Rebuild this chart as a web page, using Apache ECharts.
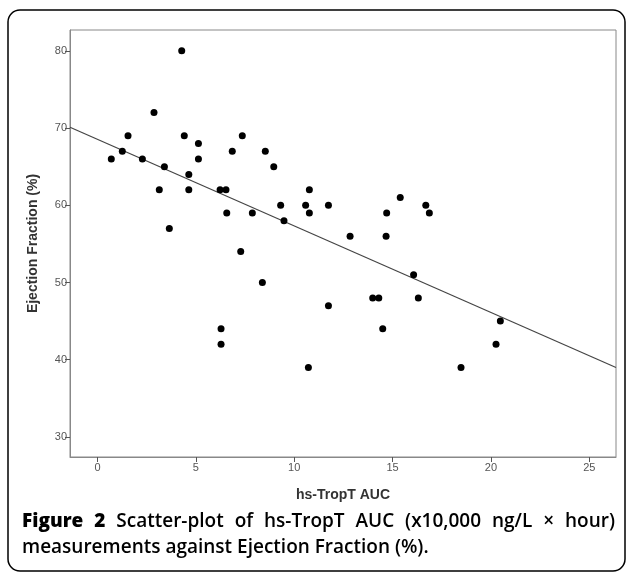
<!DOCTYPE html>
<html>
<head>
<meta charset="utf-8">
<script src="https://cdn.jsdelivr.net/npm/echarts@6/dist/echarts.min.js"></script>
<style>
html,body{margin:0;padding:0;background:#fff;}
#chart{width:627px;height:573px;}
</style>
</head>
<body>
<div id="chart"></div>
<script>
// hs-TropT AUC (x10,000 ng/L × hour)
var tropT = [0.70,1.26,1.55,2.28,2.87,3.14,3.40,3.65,4.28,4.41,4.64,4.64,5.13,5.13,6.23,6.53,6.57,6.28,6.28,6.85,7.28,7.36,7.87,8.38,8.53,8.96,9.31,9.48,10.58,10.77,10.77,10.72,11.74,11.74,12.84,13.99,14.30,14.50,14.67,14.70,15.39,16.07,16.31,16.69,16.87,18.48,20.26,20.48];
// Ejection Fraction (%)
var ef = [66,67,69,66,72,62,65,57,80,69,64,62,68,66,62,62,59,44,42,67,54,69,59,50,67,65,60,58,60,62,59,39,60,47,56,48,48,44,56,59,61,51,48,60,59,39,42,45];
// regression line end points
var fitX = [-1.4, 26.36];
var fitY = [70.1, 39.0];
var xTicks = [0,5,10,15,20,25];
var yTicks = [30,40,50,60,70,80];
var captionLine1 = ['Figure','2','Scatter-plot','of','hs-TropT','AUC','(x10,000','ng/L','×','hour)'];
var captionLine2 = 'measurements against Ejection Fraction (%).';

var pts = tropT.map(function(v,i){return [v, ef[i]];});
var fit = fitX.map(function(v,i){return [v, fitY[i]];});

// caption layout: justify line 1 between left and right edges
var capFont = '600 19px "Open Sans", sans-serif';
var capBold = '800 19px "Open Sans", sans-serif';
var cv = document.createElement('canvas').getContext('2d');
function w(txt, f){cv.font = f; return cv.measureText(txt).width;}
var capLeft = 22, capRight = 615, capY1 = 512, capY2 = 538;
var widths = captionLine1.map(function(t,i){return w(t, i<2?capBold:capFont);});
var total = widths.reduce(function(a,b){return a+b;},0);
var gap = (capRight-capLeft-total)/(captionLine1.length-1);
var capGraphics = [];
var cx = capLeft;
captionLine1.forEach(function(t,i){
  capGraphics.push({type:'text', x:cx, y:capY1, style:{text:t, font:i<2?capBold:capFont, fill:'#000'}});
  cx += widths[i] + gap;
});
capGraphics.push({type:'text', x:capLeft, y:capY2, style:{text:captionLine2, font:capFont, fill:'#000'}});

var chart = echarts.init(document.getElementById('chart'), null, {renderer:'canvas'});
var tickFont = {color:'#555', fontSize:11, fontFamily:'Liberation Sans, Arial, sans-serif'};
var nameFont = {color:'#333', fontSize:14, fontWeight:'bold', fontFamily:'Liberation Sans, Arial, sans-serif'};
chart.setOption({
  animation:false,
  backgroundColor:'#fff',
  grid:{left:70, top:30, right:11, bottom:116, show:true, borderColor:'#888', borderWidth:1, backgroundColor:'#fff'},
  xAxis:{
    type:'value', min:-1.4, max:26.36,
    name:'hs-TropT AUC', nameLocation:'middle', nameGap:31,
    nameTextStyle:nameFont,
    splitLine:{show:false},
    axisLine:{show:true, onZero:false, lineStyle:{color:'#888'}},
    axisTick:{show:true, length:5, customValues:xTicks, lineStyle:{color:'#555'}},
    axisLabel:Object.assign({customValues:xTicks, margin:5}, tickFont)
  },
  yAxis:{
    type:'value', min:27.4, max:82.7,
    name:'Ejection Fraction (%)', nameLocation:'middle', nameGap:30, nameRotate:90,
    nameTextStyle:nameFont,
    splitLine:{show:false},
    axisLine:{show:true, onZero:false, lineStyle:{color:'#888'}},
    axisTick:{show:true, length:5, customValues:yTicks, lineStyle:{color:'#555'}},
    axisLabel:Object.assign({customValues:yTicks, margin:3}, tickFont)
  },
  series:[
    {type:'line', data:fit, symbol:'none', silent:true, lineStyle:{color:'#444', width:1.2}, z:1},
    {type:'scatter', data:pts, symbol:'circle', symbolSize:7, itemStyle:{color:'#000', opacity:1}, z:2}
  ],
  graphic:[
    {type:'rect', shape:{x:8, y:10, width:617, height:561, r:12}, style:{fill:'none', stroke:'#000', lineWidth:1.5}, z:-1}
  ].concat(capGraphics)
});
</script>
</body>
</html>
